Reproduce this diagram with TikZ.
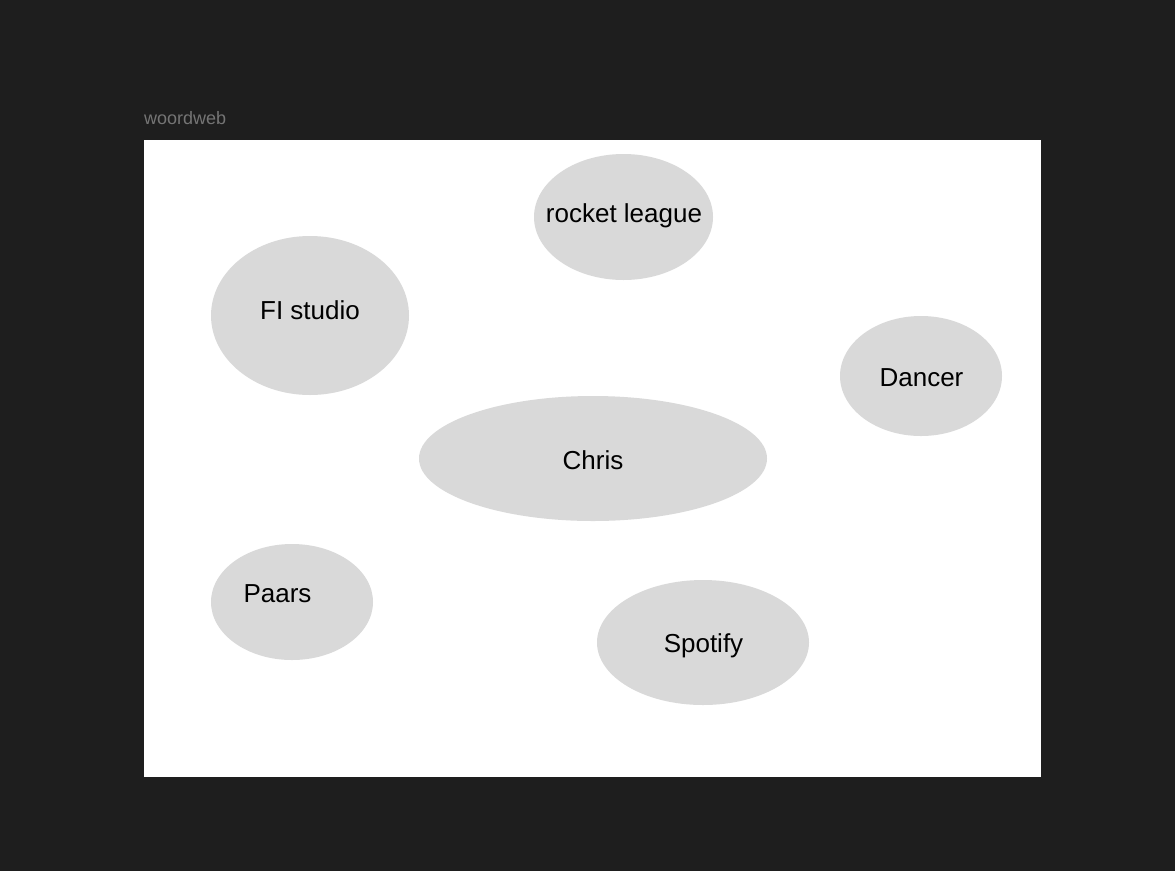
\documentclass[tikz,border=0pt]{standalone}
\usepackage{fontspec}
\setmainfont{Liberation Sans}
\usepackage{tikz}
\usetikzlibrary{shapes.geometric}

\definecolor{canvas}{HTML}{1E1E1E}
\definecolor{bubblegray}{HTML}{D9D9D9}
\definecolor{titlegray}{HTML}{757575}

\tikzset{
  bubble/.style={ellipse, fill=bubblegray, draw=none, inner sep=0pt, outer sep=0pt},
  word/.style={anchor=base, inner sep=0pt, font=\fontsize{26}{31}\selectfont, text=black}
}

\begin{document}
\begin{tikzpicture}[x=1pt,y=-1pt]

\useasboundingbox (0,0) rectangle (1175,871);
\fill[canvas] (0,0) rectangle (1175,871);

% frame with its title
\fill[white] (144,140) rectangle (1041,777);
\node[anchor=base west, inner sep=0pt, text=titlegray, font=\fontsize{18}{21}\selectfont] (title) at (144,124) {woordweb};

% bubbles
\node[bubble, minimum width=179pt, minimum height=126pt] (rocket) at (623.5,217) {};
\node[bubble, minimum width=198pt, minimum height=159pt] (fl) at (310,315.5) {};
\node[bubble, minimum width=162pt, minimum height=120pt] (dancer) at (921,376) {};
\node[bubble, minimum width=348pt, minimum height=125pt] (chris) at (593,458.5) {};
\node[bubble, minimum width=162pt, minimum height=116pt] (paars) at (292,602) {};
\node[bubble, minimum width=212pt, minimum height=125pt] (spotify) at (703,642.5) {};

% words
\node[word] (rocketlbl) at (624,222) {rocket league};
\node[word] (fllbl) at (310,319) {FI studio};
\node[word] (dancerlbl) at (921.5,386) {Dancer};
\node[word] (chrislbl) at (593,469) {Chris};
\node[word] (paarslbl) at (277.5,602) {Paars};
\node[word] (spotifylbl) at (703.5,652) {Spotify};

\end{tikzpicture}
\end{document}
